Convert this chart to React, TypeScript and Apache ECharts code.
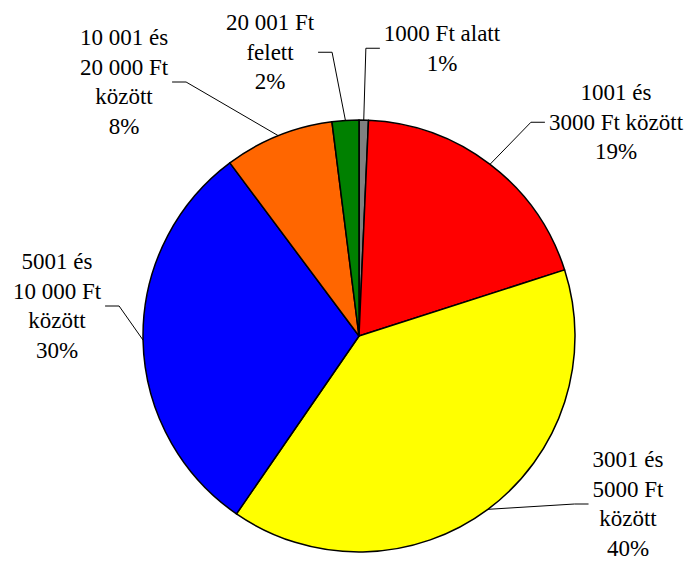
import React, { useEffect, useRef } from "react";
import * as echarts from "echarts";

const categories: string[] = [
  "1000 Ft alatt",
  "1001 és\n3000 Ft között",
  "3001 és\n5000 Ft\nközött",
  "5001 és\n10 000 Ft\nközött",
  "10 001 és\n20 000 Ft\nközött",
  "20 001 Ft\nfelett",
];
const values: number[] = [0.7, 19.35, 39.55, 30.2, 8.2, 2.0];
const colors: string[] = ["#808080", "#FF0000", "#FFFF00", "#0000FF", "#FF6600", "#008000"];

// label placement: text-block centre x, top y, and which side the leader attaches
const labelCenterX: number[] = [442, 616, 628, 57, 124, 270];
const labelTopY: number[] = [18.75, 78, 445, 247, 23, 8];
const labelSide: ("left" | "right")[] = ["left", "left", "left", "right", "right", "right"];

const FONT = "Liberation Serif";
const FONT_SIZE = 23;
const LINE_H = 29.5;

export default function App() {
  const ref = useRef<HTMLDivElement>(null);
  useEffect(() => {
    if (!ref.current) return;
    const chart = echarts.init(ref.current, undefined, { renderer: "svg" });
    const data = categories.map((name, i) => ({
      name,
      value: values[i],
      itemStyle: { color: colors[i] },
    }));
    chart.setOption({
      animation: false,
      backgroundColor: "#ffffff",
      textStyle: { fontFamily: FONT, fontSize: FONT_SIZE },
      series: [
        {
          type: "pie",
          center: [359, 336],
          radius: 216,
          startAngle: 90,
          clockwise: true,
          avoidLabelOverlap: false,
          percentPrecision: 0,
          data,
          itemStyle: { borderColor: "#000", borderWidth: 1.5 },
          label: {
            show: true,
            position: "outside",
            formatter: "{b}\n{d}%",
            color: "#000",
            fontFamily: FONT,
            fontSize: FONT_SIZE,
            lineHeight: LINE_H,
            align: "center",
          },
          labelLine: {
            show: true,
            length: 10,
            length2: 10,
            lineStyle: { color: "#000", width: 1 },
          },
          emphasis: { disabled: true },
          labelLayout: (params: any) => {
            const i = params.dataIndex;
            const w = params.labelRect.width;
            const h = params.labelRect.height;
            const cx = labelCenterX[i];
            const top = labelTopY[i];
            const midY = top + h / 2;
            const p0 = params.labelLinePoints ? params.labelLinePoints[0] : [cx, midY];
            let p2x: number;
            let p1x: number;
            if (labelSide[i] === "left") {
              p2x = cx - w / 2 - 4;
              p1x = p2x - 14;
            } else {
              p2x = cx + w / 2 + 4;
              p1x = p2x + 14;
            }
            return {
              x: cx,
              y: top,
              align: "center",
              verticalAlign: "top",
              labelLinePoints: [
                [p0[0], p0[1]],
                [p1x, midY],
                [p2x, midY],
              ],
            };
          },
        },
      ],
    });
    return () => chart.dispose();
  }, []);
  return (
    <div
      ref={ref}
      style={{ position: "fixed", left: 0, top: 0, width: 688, height: 563, background: "#fff" }}
    />
  );
}
